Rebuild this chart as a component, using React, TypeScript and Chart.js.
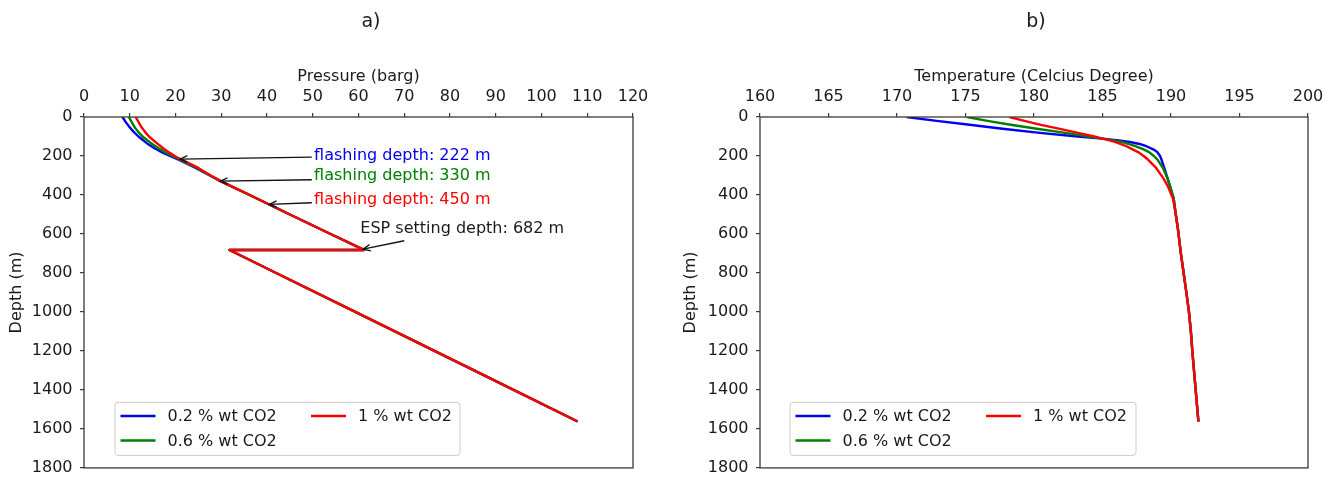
import React, { useEffect, useRef } from "react";
import { Chart, registerables } from "chart.js";

Chart.register(...registerables);

const FONT = "'DejaVu Sans', 'Liberation Sans', sans-serif";
const TEXT = "#1a1a1a";
const AXIS = "#3a3a3a";

// ---- series ----
const seriesLabels = ["0.2 % wt CO2", "0.6 % wt CO2", "1 % wt CO2"];
const seriesColors = ["#0000ee", "#008000", "#ff0000"];

// ---- panel a) pressure vs depth ----
const pressureDepth = [0, 25, 50, 75, 100, 133, 160, 184, 205, 222, 260, 300, 330, 400, 450, 500, 600, 682, 682, 800, 1000, 1200, 1400, 1562];
const pressure02 = [8.4, 9.1, 9.9, 10.8, 11.9, 13.65, 15.4, 17.3, 19.3, 20.9, 24.3, 27.5, 29.9, 36.2, 40.6, 45.0, 53.9, 61.2, 31.8, 42.0, 59.3, 76.6, 93.9, 107.9];
const pressure06 = [9.8, 10.4, 11.0, 11.8, 12.8, 14.6, 16.3, 18.0, 19.8, 21.2, 24.6, 27.6, 30.0, 36.2, 40.6, 45.0, 53.9, 61.2, 31.8, 42.0, 59.3, 76.6, 93.9, 107.9];
const pressure10 = [11.3, 11.9, 12.5, 13.3, 14.2, 15.85, 17.3, 18.75, 20.2, 21.6, 24.9, 27.7, 30.0, 36.2, 40.6, 45.0, 53.9, 61.2, 31.8, 42.0, 59.3, 76.6, 93.9, 107.9];

// ---- panel b) temperature vs depth ----
const temperatureDepth = [0, 20, 40, 60, 83, 100, 111, 120, 128, 140, 150, 166, 180, 200, 217, 260, 315, 360, 420, 500, 571, 700, 799, 900, 993, 1100, 1203, 1400, 1562];
const temperature02 = [170.7, 172.9, 175.3, 177.7, 180.6, 183.2, 185.0, 186.2, 187.0, 187.8, 188.2, 188.7, 189.0, 189.2, 189.3, 189.5, 189.75, 189.95, 190.2, 190.35, 190.5, 190.72, 190.92, 191.12, 191.3, 191.45, 191.56, 191.8, 192.0];
const temperature06 = [175.1, 176.6, 178.3, 180.2, 182.4, 184.0, 185.0, 185.8, 186.4, 187.0, 187.4, 188.0, 188.4, 188.75, 189.0, 189.4, 189.75, 189.95, 190.2, 190.35, 190.5, 190.72, 190.92, 191.12, 191.3, 191.45, 191.56, 191.8, 192.0];
const temperature10 = [178.2, 179.3, 180.5, 181.8, 183.3, 184.4, 185.0, 185.5, 185.9, 186.4, 186.75, 187.2, 187.6, 188.0, 188.3, 188.9, 189.45, 189.8, 190.15, 190.35, 190.5, 190.72, 190.92, 191.12, 191.3, 191.45, 191.56, 191.8, 192.0];

// ---- axes ----
const depthMin = 0;
const depthMax = 1800;
const depthStep = 200;
const pressureMin = 0;
const pressureMax = 120;
const pressureStep = 10;
const temperatureMin = 160;
const temperatureMax = 200;
const temperatureStep = 5;

// ---- annotations (panel a), data coordinates ----
const annotationTexts = ["flashing depth: 222 m", "flashing depth: 330 m", "flashing depth: 450 m", "ESP setting depth: 682 m"];
const annotationColors = ["#0000ee", "#008000", "#ff0000", "#1a1a1a"];
const annotationTextX = [50.3, 50.3, 50.3, 60.4];
const annotationTextY = [198, 304, 425, 575];
const annotationTailX = [49.8, 49.8, 49.8, 70];
const annotationTailY = [206, 322, 440, 635];
const annotationTipX = [21, 29.8, 40.5, 61];
const annotationTipY = [216, 329, 448, 678];

function makeDatasets(depth: number[], values: number[][]) {
  return values.map((v, i) => ({
    label: seriesLabels[i],
    data: v.map((x, j) => ({ x, y: depth[j] })),
    borderColor: seriesColors[i],
    backgroundColor: seriesColors[i],
    borderWidth: 2.4,
    borderJoinStyle: "round",
    borderCapStyle: "butt",
    pointRadius: 0,
    showLine: true,
    tension: 0,
    order: values.length - i,
  }));
}

const framePlugin = {
  id: "frame",
  afterDatasetsDraw(chart: any) {
    const { ctx, chartArea: a } = chart;
    ctx.save();
    ctx.strokeStyle = AXIS;
    ctx.lineWidth = 1.3;
    ctx.strokeRect(a.left, a.top, a.right - a.left, a.bottom - a.top);
    ctx.restore();
  },
};

const panelTitlePlugin = {
  id: "panelTitle",
  afterDraw(chart: any, _args: any, opts: any) {
    const { ctx } = chart;
    ctx.save();
    ctx.font = `19px ${FONT}`;
    ctx.fillStyle = TEXT;
    ctx.textAlign = "center";
    ctx.textBaseline = "middle";
    ctx.fillText(opts.text, opts.x, opts.y);
    ctx.restore();
  },
};

const legendBoxPlugin = {
  id: "legendBox",
  afterDraw(chart: any, _args: any, opts: any) {
    const { ctx, chartArea: a } = chart;
    const left = a.left + opts.offsetLeft;
    const top = a.bottom - opts.offsetBottom - opts.height;
    ctx.save();
    ctx.beginPath();
    const r = 3;
    const w = opts.width;
    const h = opts.height;
    ctx.moveTo(left + r, top);
    ctx.lineTo(left + w - r, top);
    ctx.quadraticCurveTo(left + w, top, left + w, top + r);
    ctx.lineTo(left + w, top + h - r);
    ctx.quadraticCurveTo(left + w, top + h, left + w - r, top + h);
    ctx.lineTo(left + r, top + h);
    ctx.quadraticCurveTo(left, top + h, left, top + h - r);
    ctx.lineTo(left, top + r);
    ctx.quadraticCurveTo(left, top, left + r, top);
    ctx.closePath();
    ctx.fillStyle = "rgba(255,255,255,0.85)";
    ctx.fill();
    ctx.strokeStyle = "#cccccc";
    ctx.lineWidth = 1;
    ctx.stroke();

    const colHandle = [5.5, 196];
    const colText = [52.5, 243];
    const rowY = [13.7, 38];
    const place = [
      [0, 0],
      [0, 1],
      [1, 0],
    ];
    ctx.font = `16px ${FONT}`;
    ctx.textAlign = "left";
    ctx.textBaseline = "middle";
    chart.data.datasets.forEach((ds: any, i: number) => {
      const [c, rr] = place[i];
      const y = top + rowY[rr];
      ctx.strokeStyle = ds.borderColor;
      ctx.lineWidth = 2.5;
      ctx.beginPath();
      ctx.moveTo(left + colHandle[c], y);
      ctx.lineTo(left + colHandle[c] + 35, y);
      ctx.stroke();
      ctx.fillStyle = TEXT;
      ctx.fillText(ds.label, left + colText[c], y + 1);
    });
    ctx.restore();
  },
};

const annotationPlugin = {
  id: "arrowNotes",
  afterDatasetsDraw(chart: any, _args: any, opts: any) {
    if (!opts.enabled) return;
    const { ctx } = chart;
    const xs = chart.scales.x;
    const ys = chart.scales.y;
    ctx.save();
    annotationTexts.forEach((t, i) => {
      const tx = xs.getPixelForValue(annotationTextX[i]);
      const ty = ys.getPixelForValue(annotationTextY[i]);
      const ax = xs.getPixelForValue(annotationTailX[i]);
      const ay = ys.getPixelForValue(annotationTailY[i]);
      const px = xs.getPixelForValue(annotationTipX[i]);
      const py = ys.getPixelForValue(annotationTipY[i]);
      ctx.font = `16px ${FONT}`;
      ctx.fillStyle = annotationColors[i];
      ctx.textAlign = "left";
      ctx.textBaseline = "middle";
      ctx.fillText(t, tx, ty);
      ctx.strokeStyle = "#111111";
      ctx.lineWidth = 1.4;
      ctx.beginPath();
      ctx.moveTo(ax, ay);
      ctx.lineTo(px, py);
      ctx.stroke();
      const ang = Math.atan2(py - ay, px - ax);
      const hl = 8;
      const spread = 0.42;
      ctx.beginPath();
      ctx.moveTo(px - hl * Math.cos(ang - spread), py - hl * Math.sin(ang - spread));
      ctx.lineTo(px, py);
      ctx.lineTo(px - hl * Math.cos(ang + spread), py - hl * Math.sin(ang + spread));
      ctx.stroke();
    });
    ctx.restore();
  },
};

function makeConfig(p: any) {
  const tickFont = { family: FONT, size: 16 };
  return {
    type: "scatter",
    data: { datasets: p.datasets },
    options: {
      responsive: false,
      animation: false,
      events: [],
      layout: { padding: { left: 0, top: 0, right: p.padRight, bottom: 12 } },
      plugins: {
        legend: { display: false },
        tooltip: { enabled: false },
        title: { display: false },
        panelTitle: { text: p.title, x: p.titleX, y: 22 },
        legendBox: { offsetLeft: p.legendLeft, offsetBottom: 12.5, width: p.legendWidth, height: 53 },
        arrowNotes: { enabled: p.notes },
      },
      scales: {
        x: {
          type: "linear",
          position: "top",
          min: p.xMin,
          max: p.xMax,
          afterFit: (s: any) => {
            s.height = 117;
          },
          ticks: {
            stepSize: p.xStep,
            autoSkip: false,
            maxRotation: 0,
            font: tickFont,
            color: TEXT,
            padding: 7,
            callback: (v: any) => String(v),
          },
          grid: { drawOnChartArea: false, drawTicks: true, tickLength: 4, color: AXIS, lineWidth: 1.2 },
          border: { display: false },
          title: { display: true, text: p.xTitle, font: tickFont, color: TEXT, padding: { top: 67, bottom: 0 } },
        },
        y: {
          type: "linear",
          position: "left",
          reverse: true,
          min: depthMin,
          max: depthMax,
          afterFit: (s: any) => {
            s.width = p.plotLeft;
          },
          ticks: {
            stepSize: depthStep,
            autoSkip: false,
            font: tickFont,
            color: TEXT,
            padding: 7.5,
            callback: (v: any) => String(v),
          },
          grid: { drawOnChartArea: false, drawTicks: true, tickLength: 4, color: AXIS, lineWidth: 1.2 },
          border: { display: false },
          title: { display: true, text: "Depth (m)", font: tickFont, color: TEXT, padding: { top: p.yTitlePad, bottom: 0 } },
        },
      },
    },
    plugins: [framePlugin, annotationPlugin, legendBoxPlugin, panelTitlePlugin],
  };
}

function Panel(props: { config: any; left: number }) {
  const ref = useRef<HTMLCanvasElement | null>(null);
  useEffect(() => {
    if (!ref.current) return;
    const chart = new Chart(ref.current, props.config);
    return () => chart.destroy();
  }, []);
  return (
    <div style={{ position: "absolute", left: props.left, top: 0, width: 669, height: 485 }}>
      <canvas ref={ref} width={669} height={485} style={{ width: 669, height: 485, display: "block" }} />
    </div>
  );
}

export default function App() {
  const configA = makeConfig({
    datasets: makeDatasets(pressureDepth, [pressure02, pressure06, pressure10]),
    title: "a)",
    titleX: 371,
    padRight: 36,
    plotLeft: 84,
    xMin: pressureMin,
    xMax: pressureMax,
    xStep: pressureStep,
    xTitle: "Pressure (barg)",
    yTitlePad: 7.4,
    legendLeft: 31,
    legendWidth: 345,
    notes: true,
  });
  const configB = makeConfig({
    datasets: makeDatasets(temperatureDepth, [temperature02, temperature06, temperature10]),
    title: "b)",
    titleX: 367,
    padRight: 30,
    plotLeft: 91,
    xMin: temperatureMin,
    xMax: temperatureMax,
    xStep: temperatureStep,
    xTitle: "Temperature (Celcius Degree)",
    yTitlePad: 12,
    legendLeft: 30,
    legendWidth: 346,
    notes: false,
  });
  return (
    <div style={{ position: "absolute", left: 0, top: 0, width: 1338, height: 485, background: "#ffffff", overflow: "hidden" }}>
      <Panel config={configA} left={0} />
      <Panel config={configB} left={669} />
    </div>
  );
}
